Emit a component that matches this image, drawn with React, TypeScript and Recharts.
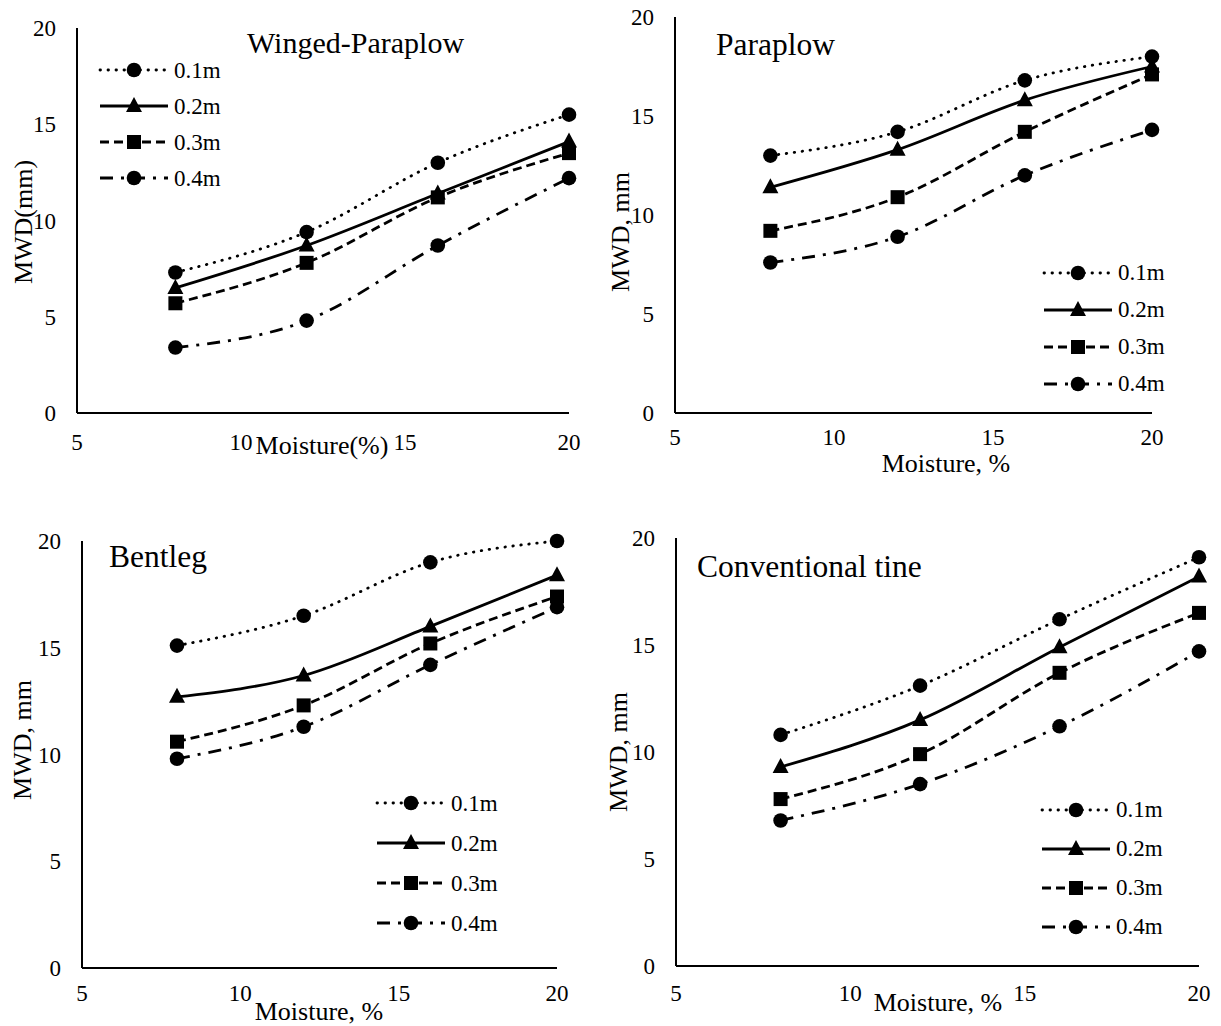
import React from "react";
import { Legend, Line, LineChart, XAxis, YAxis } from "recharts";

// Mean weight diameter vs soil moisture, four tines, four working depths.
const MOISTURE = [8, 12, 16, 20];
const DEPTHS = ["0.1m", "0.2m", "0.3m", "0.4m"];
const X_TICKS = [5, 10, 15, 20];
const Y_TICKS = [0, 5, 10, 15, 20];

const WINGED_01 = [7.3, 9.4, 13.0, 15.5];
const WINGED_02 = [6.5, 8.7, 11.4, 14.1];
const WINGED_03 = [5.7, 7.8, 11.2, 13.5];
const WINGED_04 = [3.4, 4.8, 8.7, 12.2];

const PARAPLOW_01 = [13.0, 14.2, 16.8, 18.0];
const PARAPLOW_02 = [11.4, 13.3, 15.8, 17.5];
const PARAPLOW_03 = [9.2, 10.9, 14.2, 17.1];
const PARAPLOW_04 = [7.6, 8.9, 12.0, 14.3];

const BENTLEG_01 = [15.1, 16.5, 19.0, 20.0];
const BENTLEG_02 = [12.7, 13.7, 16.0, 18.4];
const BENTLEG_03 = [10.6, 12.3, 15.2, 17.4];
const BENTLEG_04 = [9.8, 11.3, 14.2, 16.9];

const CONV_01 = [10.8, 13.1, 16.2, 19.1];
const CONV_02 = [9.3, 11.5, 14.9, 18.2];
const CONV_03 = [7.8, 9.9, 13.7, 16.5];
const CONV_04 = [6.8, 8.5, 11.2, 14.7];

const SERIF = "Liberation Serif";
const INK = "#000";
const LINE_W = 2.8;
const TICK_SIZE = 23;

type Shape = "circle" | "triangle" | "square";

// per-depth look: dotted / solid / dashed / dash-dot
const STYLES: { dash?: string; shape: Shape; cap: "round" | "butt" }[] = [
  { dash: "0.5 7.5", shape: "circle", cap: "round" },
  { dash: undefined, shape: "triangle", cap: "butt" },
  { dash: "9 5", shape: "square", cap: "butt" },
  { dash: "13 8 3 8", shape: "circle", cap: "butt" },
];

function Marker({ shape, cx, cy }: { shape: Shape; cx: number; cy: number }) {
  if (shape === "triangle") {
    return (
      <polygon
        points={`${cx},${cy - 9} ${cx - 8},${cy + 6} ${cx + 8},${cy + 6}`}
        fill={INK}
      />
    );
  }
  if (shape === "square") {
    return <rect x={cx - 7} y={cy - 7} width={14} height={14} fill={INK} />;
  }
  return <circle cx={cx} cy={cy} r={7.3} fill={INK} />;
}

// serif tick text; recharts hands over the already offset anchor point
function XTick(props: any) {
  return (
    <text
      x={props.x}
      y={props.y}
      dy="0.71em"
      textAnchor="middle"
      fill={INK}
      style={{ fontFamily: SERIF, fontSize: TICK_SIZE }}
    >
      {props.payload.value}
    </text>
  );
}

function YTick(props: any) {
  return (
    <text
      x={props.x}
      y={props.y}
      dy="0.35em"
      textAnchor="end"
      fill={INK}
      style={{ fontFamily: SERIF, fontSize: TICK_SIZE }}
    >
      {props.payload.value}
    </text>
  );
}

function buildRows(series: number[][]) {
  return MOISTURE.map((m, i) => {
    const row: Record<string, number> = { moisture: m };
    series.forEach((s, k) => {
      row[DEPTHS[k]] = s[i];
    });
    return row;
  });
}

interface PanelProps {
  title: string;
  titleSize: number;
  series: number[][];
  xTitle: string;
  yTitle: string;
  box: { left: number; top: number; width: number; height: number };
  plot: { left: number; top: number; right: number; bottom: number };
  titlePos: { x: number; y: number };
  xTitlePos: { x: number; y: number };
  yTitlePos: { x: number; y: number };
  legendPos: { x: number; y: number; gap: number };
  tickGap: number;
}

function LegendBlock({ gap }: { gap: number }) {
  return (
    <div style={{ fontFamily: SERIF, fontSize: 23, color: INK }}>
      {DEPTHS.map((d, k) => {
        const st = STYLES[k];
        return (
          <div
            key={d}
            style={{ display: "flex", alignItems: "center", height: gap }}
          >
            <svg width={72} height={20} style={{ display: "block" }}>
              <line
                x1={2}
                x2={70}
                y1={10}
                y2={10}
                stroke={INK}
                strokeWidth={LINE_W}
                strokeDasharray={st.dash}
                strokeLinecap={st.cap}
              />
              <Marker shape={st.shape} cx={36} cy={10} />
            </svg>
            <span style={{ marginLeft: 4, lineHeight: 1, fontFamily: SERIF }}>{d}</span>
          </div>
        );
      })}
    </div>
  );
}

function Panel(p: PanelProps) {
  const data = buildRows(p.series);
  const yAxisW = 60;
  const xAxisH = 50;
  const margin = {
    top: p.plot.top - p.box.top,
    left: p.plot.left - p.box.left - yAxisW,
    right: p.box.left + p.box.width - p.plot.right,
    bottom: p.box.top + p.box.height - p.plot.bottom - xAxisH,
  };
  const textBase: React.CSSProperties = {
    position: "absolute",
    fontFamily: SERIF,
    whiteSpace: "nowrap",
    lineHeight: 1,
    color: INK,
  };
  return (
    <>
      <div style={{ position: "absolute", left: p.box.left, top: p.box.top }}>
        <LineChart width={p.box.width} height={p.box.height} data={data} margin={margin}>
          <XAxis
            dataKey="moisture"
            type="number"
            domain={[5, 20]}
            ticks={X_TICKS}
            tick={<XTick />}
            tickLine={false}
            tickMargin={p.tickGap}
            height={xAxisH}
            axisLine={{ stroke: INK, strokeWidth: 2 }}
            interval={0}
          />
          <YAxis
            type="number"
            domain={[0, 20]}
            ticks={Y_TICKS}
            tick={<YTick />}
            tickLine={false}
            tickMargin={15}
            width={yAxisW}
            axisLine={{ stroke: INK, strokeWidth: 2 }}
            interval={0}
          />
          <Legend
            layout="horizontal"
            verticalAlign="middle"
            align="center"
            content={() => <LegendBlock gap={p.legendPos.gap} />}
            wrapperStyle={{
              left: p.legendPos.x - p.box.left,
              top: p.legendPos.y - p.box.top,
              width: "auto",
            }}
          />
          {DEPTHS.map((d, k) => {
            const st = STYLES[k];
            return (
              <Line
                key={d}
                dataKey={d}
                type="monotone"
                stroke={INK}
                strokeWidth={LINE_W}
                strokeDasharray={st.dash}
                strokeLinecap={st.cap}
                isAnimationActive={false}
                legendType="none"
                dot={(dp: any) => (
                  <Marker key={`${d}-${dp.index}`} shape={st.shape} cx={dp.cx} cy={dp.cy} />
                )}
                activeDot={false}
              />
            );
          })}
        </LineChart>
      </div>
      <div
        style={{
          ...textBase,
          left: p.titlePos.x,
          top: p.titlePos.y,
          transform: "translate(0, -50%)",
          fontSize: p.titleSize,
        }}
      >
        {p.title}
      </div>
      <div
        style={{
          ...textBase,
          left: p.xTitlePos.x,
          top: p.xTitlePos.y,
          transform: "translate(-50%, -50%)",
          fontSize: 26,
        }}
      >
        {p.xTitle}
      </div>
      <div
        style={{
          ...textBase,
          left: p.yTitlePos.x,
          top: p.yTitlePos.y,
          transform: "translate(-50%, -50%) rotate(-90deg)",
          fontSize: 26,
        }}
      >
        {p.yTitle}
      </div>
    </>
  );
}

export default function App() {
  return (
    <div
      style={{
        position: "absolute",
        left: 0,
        top: 0,
        width: 1221,
        height: 1026,
        background: "#fff",
        overflow: "hidden",
        fontFamily: SERIF,
      }}
    >
      <Panel
        title="Winged-Paraplow"
        titleSize={30}
        series={[WINGED_01, WINGED_02, WINGED_03, WINGED_04]}
        xTitle="Moisture(%)"
        yTitle="MWD(mm)"
        box={{ left: 0, top: 0, width: 600, height: 480 }}
        plot={{ left: 77, top: 28, right: 569, bottom: 413 }}
        titlePos={{ x: 247, y: 43 }}
        xTitlePos={{ x: 322, y: 446 }}
        yTitlePos={{ x: 24, y: 222 }}
        legendPos={{ x: 98, y: 52, gap: 36 }}
        tickGap={15}
      />
      <Panel
        title="Paraplow"
        titleSize={31.5}
        series={[PARAPLOW_01, PARAPLOW_02, PARAPLOW_03, PARAPLOW_04]}
        xTitle="Moisture, %"
        yTitle="MWD, mm"
        box={{ left: 600, top: 0, width: 600, height: 480 }}
        plot={{ left: 675, top: 17, right: 1152, bottom: 413 }}
        titlePos={{ x: 716, y: 45 }}
        xTitlePos={{ x: 946, y: 464 }}
        yTitlePos={{ x: 621, y: 232 }}
        legendPos={{ x: 1042, y: 254, gap: 37 }}
        tickGap={10}
      />
      <Panel
        title="Bentleg"
        titleSize={31.5}
        series={[BENTLEG_01, BENTLEG_02, BENTLEG_03, BENTLEG_04]}
        xTitle="Moisture, %"
        yTitle="MWD, mm"
        box={{ left: 0, top: 520, width: 600, height: 506 }}
        plot={{ left: 82, top: 541, right: 557, bottom: 968 }}
        titlePos={{ x: 109, y: 557 }}
        xTitlePos={{ x: 319, y: 1012 }}
        yTitlePos={{ x: 23, y: 740 }}
        legendPos={{ x: 375, y: 783, gap: 40 }}
        tickGap={11}
      />
      <Panel
        title="Conventional tine"
        titleSize={31.5}
        series={[CONV_01, CONV_02, CONV_03, CONV_04]}
        xTitle="Moisture, %"
        yTitle="MWD, mm"
        box={{ left: 600, top: 520, width: 621, height: 506 }}
        plot={{ left: 676, top: 538, right: 1199, bottom: 966 }}
        titlePos={{ x: 697, y: 567 }}
        xTitlePos={{ x: 938, y: 1003 }}
        yTitlePos={{ x: 619, y: 752 }}
        legendPos={{ x: 1040, y: 790, gap: 39 }}
        tickGap={13}
      />
    </div>
  );
}
